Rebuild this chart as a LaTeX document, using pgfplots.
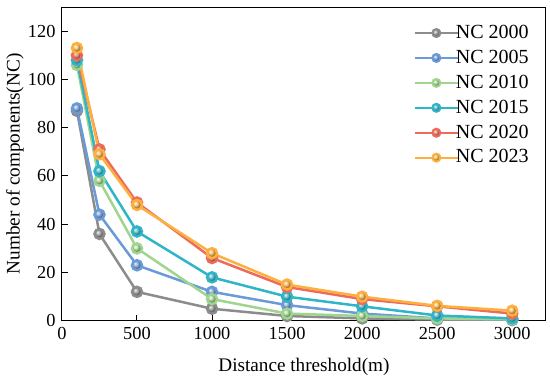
\documentclass[border=0pt]{standalone}
\usepackage{pgfplots}
\pgfplotsset{compat=1.18}
\usepackage{fontspec}
\setmainfont{Liberation Serif}
\definecolor{cgray}{HTML}{8C8C8C}
\definecolor{cblue}{HTML}{6A9BD8}
\definecolor{cgreen}{HTML}{9FD58F}
\definecolor{ccyan}{HTML}{2FB5C8}
\definecolor{cred}{HTML}{EE6A5B}
\definecolor{corange}{HTML}{FDB040}
\newcommand{\fs}{\fontsize{11}{13}\selectfont}
\newcommand{\fl}{\fontsize{11.5}{13.5}\selectfont}
\newcommand{\fg}{\fontsize{12}{14}\selectfont}
\begin{document}
\fs
\begin{tikzpicture}
\begin{axis}[
  name=main,
  scale only axis,
  width=290pt, height=188pt,
  xmin=0, xmax=3225, ymin=0, ymax=130,
  xtick={0,500,1000,1500,2000,2500,3000},
  ytick={0,20,40,60,80,100,120},
  xtick pos=bottom, ytick pos=left,
  tick align=inside,
  major tick length=3.5pt,
  tick style={black, line width=0.6pt},
  axis line style={line width=0.6pt},
  /pgf/number format/assume math mode=true,
  /pgf/number format/1000 sep={},
  ticklabel style={font=\fs},
  label style={font=\fl},
  xlabel={Distance threshold(m)},
  ylabel={Number of components(NC)},
  xlabel style={yshift=-3.8pt},
  ylabel style={yshift=-5pt},
  every axis plot/.append style={line width=1.5pt, mark=ball, mark size=3pt},
  legend style={at={(rel axis cs:0.972,0.965)}, anchor=north east, draw=none, fill=none,
    font=\fg, row sep=1.3pt, inner xsep=0pt,
    /tikz/every odd column/.append style={column sep=0pt}},
  legend cell align=left,
  legend image code/.code={\draw[mark repeat=2,mark phase=2,#1,line width=1.2pt,mark size=2.4pt] plot coordinates {(0cm,0cm) (0.46cm,0cm) (0.92cm,0cm)};},
]
\addplot[color=cgray, mark options={ball color=cgray!85!white}] coordinates {(100,87) (250,36) (500,12) (1000,5) (1500,2) (2000,1) (2500,0.5) (3000,0.3)};
\addlegendentry{\hspace{-4pt}NC 2000}
\addplot[color=cblue, mark options={ball color=cblue!85!white}] coordinates {(100,88) (250,44) (500,23) (1000,12) (1500,6.5) (2000,3) (2500,1) (3000,0.6)};
\addlegendentry{\hspace{-4pt}NC 2005}
\addplot[color=cgreen, mark options={ball color=cgreen!85!white}] coordinates {(100,106) (250,58) (500,30) (1000,9) (1500,3) (2000,2) (2500,1) (3000,0.6)};
\addlegendentry{\hspace{-4pt}NC 2010}
\addplot[color=ccyan, mark options={ball color=ccyan!85!white}] coordinates {(100,108) (250,62) (500,37) (1000,18) (1500,10) (2000,6) (2500,2.2) (3000,1)};
\addlegendentry{\hspace{-4pt}NC 2015}
\addplot[color=cred, mark options={ball color=cred!85!white}] coordinates {(100,110) (250,71) (500,49) (1000,26) (1500,14) (2000,9) (2500,6) (3000,3)};
\addlegendentry{\hspace{-4pt}NC 2020}
\addplot[color=corange, mark options={ball color=corange!85!white}] coordinates {(100,113) (250,69) (500,48) (1000,28) (1500,15) (2000,10) (2500,6.2) (3000,4.2)};
\addlegendentry{\hspace{-4pt}NC 2023}
\end{axis}
\path ([xshift=2.4pt,yshift=4.2pt]main.north east);
\end{tikzpicture}
\end{document}
